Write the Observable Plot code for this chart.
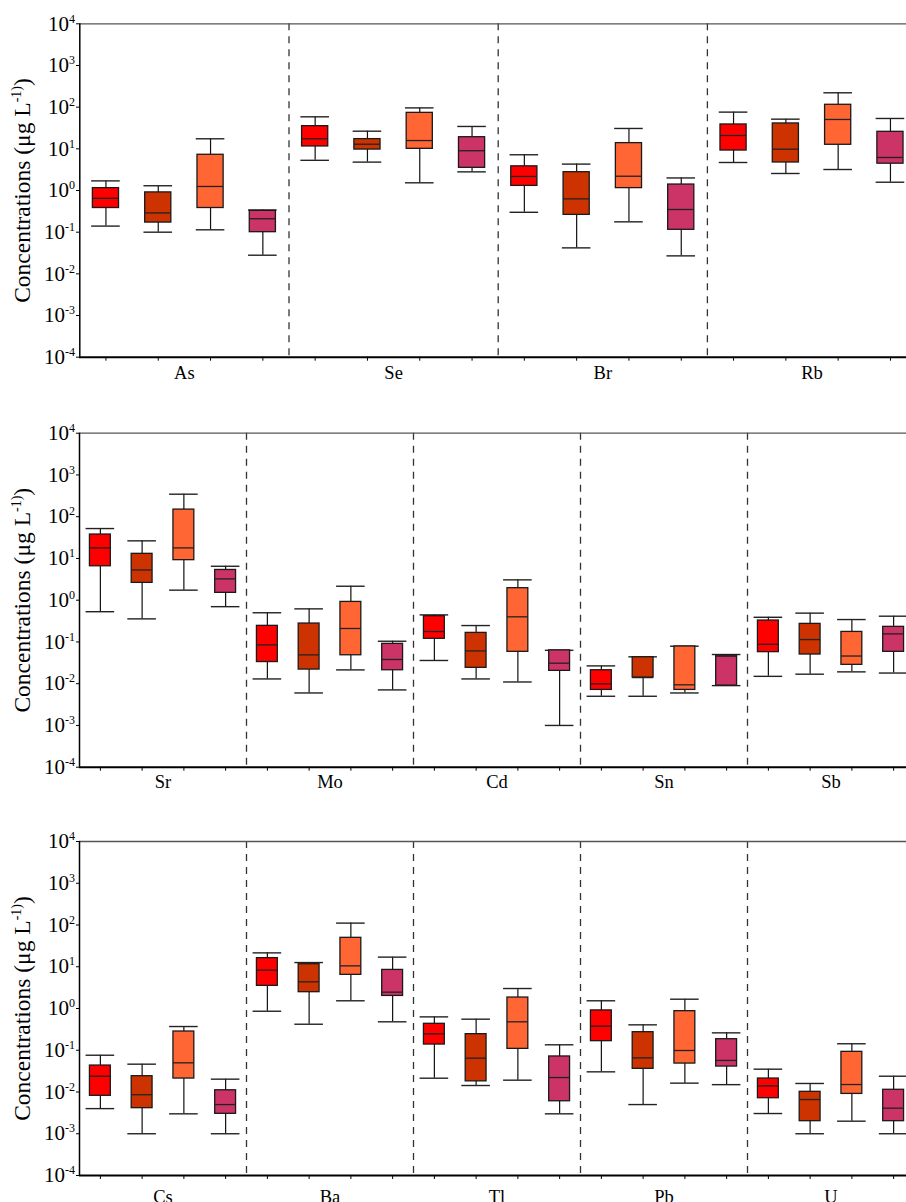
<!DOCTYPE html>
<html><head><meta charset="utf-8">
<script src="https://cdn.jsdelivr.net/npm/d3@7"></script>
<script src="https://cdn.jsdelivr.net/npm/@observablehq/plot@0.6"></script>
<style>
html,body{margin:0;padding:0;background:#fff;overflow:hidden;width:906px;}
svg{display:block}
svg, svg text, svg g, svg tspan{font-family:'Liberation Serif','Times New Roman',serif !important;}
</style>
</head><body><div id="chart"></div>
<script>
// Box statistics per element: for each of 4 series [lower whisker, Q1, median, Q3, upper whisker] (µg/L)
const As = [[0.14,0.38,0.65,1.14,1.7],[0.10,0.17,0.29,0.90,1.3],[0.114,0.38,1.25,7.2,17.4],[0.028,0.10,0.21,0.325,0.34]];
const Se = [[5.3,11.4,17.4,35,58.6],[4.8,9.6,12.9,17.1,26.5],[1.53,10,15.8,73,96],[2.8,3.5,9.0,19,34.4]];
const Br = [[0.30,1.29,2.17,3.8,7.2],[0.042,0.26,0.63,2.75,4.3],[0.177,1.14,2.2,13.7,30.8],[0.027,0.114,0.35,1.39,2.0]];
const Rb = [[4.7,9.1,20.9,38.4,76],[2.56,4.7,9.8,40.6,51.5],[3.19,12.5,50.6,114,221],[1.58,4.4,6.2,25.6,53.5]];
const Sr = [[0.53,6.5,17.9,37.4,52],[0.357,2.6,5.3,12.9,26.4],[1.74,9.1,17.9,148,346],[0.70,1.5,3.24,5.3,6.5]];
const Mo = [[0.013,0.033,0.085,0.243,0.50],[0.006,0.0218,0.049,0.276,0.62],[0.0214,0.048,0.21,0.91,2.16],[0.0071,0.021,0.038,0.090,0.104]];
const Cd = [[0.036,0.119,0.178,0.414,0.445],[0.013,0.024,0.061,0.165,0.247],[0.011,0.058,0.40,1.94,3.07],[0.001,0.0203,0.031,0.063,0.063]];
const Sn = [[0.005,0.0071,0.0099,0.021,0.0267],[0.005,0.014,0.014,0.043,0.044],[0.006,0.0071,0.0094,0.078,0.079],[0.009,0.009,0.0456,0.047,0.050]];
const Sb = [[0.015,0.057,0.088,0.326,0.39],[0.0169,0.050,0.114,0.271,0.49],[0.0192,0.0283,0.046,0.174,0.344],[0.018,0.058,0.156,0.23,0.414]];
const Cs = [[0.004,0.0081,0.0239,0.043,0.076],[0.001,0.0041,0.0086,0.0239,0.0464],[0.003,0.021,0.050,0.281,0.37],[0.001,0.003,0.005,0.011,0.0203]];
const Ba = [[0.86,3.49,8.3,16.1,21.5],[0.42,2.46,4.35,11.5,12.6],[1.53,6.4,10.5,49.3,111],[0.48,2.0,2.46,8.4,17]];
const Tl = [[0.0214,0.137,0.247,0.43,0.63],[0.0143,0.018,0.0646,0.243,0.555],[0.0192,0.108,0.48,1.83,3.01],[0.003,0.006,0.0222,0.071,0.135]];
const Pb = [[0.0304,0.165,0.377,0.90,1.53],[0.005,0.0359,0.0657,0.271,0.406],[0.0163,0.048,0.0986,0.863,1.67],[0.015,0.0407,0.057,0.184,0.261]];
const U  = [[0.00305,0.0071,0.014,0.021,0.0352],[0.001,0.002,0.0066,0.0101,0.016],[0.002,0.009,0.0151,0.0916,0.143],[0.001,0.002,0.0041,0.0113,0.0239]];

const panel1Elements = ["As","Se","Br","Rb"];
const panel2Elements = ["Sr","Mo","Cd","Sn","Sb"];
const panel3Elements = ["Cs","Ba","Tl","Pb","U"];
const yTicks = [1e-4,1e-3,1e-2,1e-1,1,1e1,1e2,1e3,1e4];
const yLabel = "Concentrations (μg L^-1)";
const seriesColors = ["#FF0000","#CC3300","#FF6633","#CC3366"];

const stats = {As,Se,Br,Rb,Sr,Mo,Cd,Sn,Sb,Cs,Ba,Tl,Pb,U};

const panels = [
  {elements: panel1Elements, spacing: 52.3, left: 79.3, height: 409, mt: 23.3, mb: 52.3, labelDy: 8.3},
  {elements: panel2Elements, spacing: 41.75, left: 79, height: 409, mt: 23.7, mb: 51.3, labelDy: 7.3},
  {elements: panel3Elements, spacing: 41.75, left: 79, height: 384, mt: 23, mb: 27, labelDy: 14}
];

const NS = "http://www.w3.org/2000/svg";
const FONT = "'Liberation Serif', 'Times New Roman', serif";
function supify(textEl, base, exp, size, supSize, raise) {
  textEl.textContent = "";
  textEl.style.fontFamily = FONT;
  textEl.style.fontSize = size + "px";
  const t1 = document.createElementNS(NS, "tspan"); t1.textContent = base; textEl.appendChild(t1);
  const t2 = document.createElementNS(NS, "tspan"); t2.textContent = exp;
  t2.setAttribute("dy", -raise); t2.style.fontSize = supSize + "px"; textEl.appendChild(t2);
  return t2;
}

function makePanel(p) {
  const rows = [];
  p.elements.forEach((el, g) => stats[el].forEach((s, k) => rows.push({
    el, k, i: g * 4 + k, min: s[0], q1: s[1], med: s[2], q3: s[3], max: s[4], color: seriesColors[k]
  })));
  const n = p.elements.length * 4;
  const cap = 14.3 / p.spacing;
  const bw = 0.25;
  const seps = d3.range(1, p.elements.length).map(g => g * 4 - 0.5);
  const svg = Plot.plot({
    width: 906, height: p.height,
    marginLeft: 79, marginRight: 0, marginTop: p.mt, marginBottom: p.mb,
    style: "font-family: 'Liberation Serif', 'Times New Roman', serif; font-size: 18px; background: white; color: #000;",
    x: {type: "linear", domain: [-0.5, n - 0.5], range: [p.left, p.left + n * p.spacing], label: null},
    y: {type: "log", domain: [1e-4, 1e4], label: null},
    color: {type: "identity"},
    marks: [
      Plot.ruleX(seps, {stroke: "#333", strokeWidth: 1.3, strokeDasharray: "7,6"}),
      Plot.ruleY([1e4], {stroke: "#555", strokeWidth: 1.3}),
      Plot.ruleX(rows, {x: "i", y1: "min", y2: "max", stroke: "#111", strokeWidth: 1.2}),
      Plot.ruleY(rows, {y: "max", x1: d => d.i - cap, x2: d => d.i + cap, stroke: "#222", strokeWidth: 1.4}),
      Plot.ruleY(rows, {y: "min", x1: d => d.i - cap, x2: d => d.i + cap, stroke: "#222", strokeWidth: 1.4}),
      Plot.rect(rows, {x1: d => d.i - bw, x2: d => d.i + bw, y1: "q1", y2: "q3", fill: "color", stroke: "#1a1a1a", strokeWidth: 1.3}),
      Plot.ruleY(rows, {y: "med", x1: d => d.i - bw, x2: d => d.i + bw, stroke: "#222", strokeWidth: 1.3}),
      Plot.axisY({ticks: yTicks, tickSize: 3, tickPadding: 1.5, fontSize: 21,
        tickFormat: d => "10^" + Math.round(Math.log10(d)), label: null}),
      Plot.axisX({ticks: d3.range(n), tickSize: 4, tickFormat: () => "", label: null}),
      Plot.ruleX([-0.5], {stroke: "#000", strokeWidth: 1.5}),
      Plot.ruleY([1e-4], {stroke: "#000", strokeWidth: 2}),
      Plot.text(p.elements, {x: (d, j) => j * 4 + 1.5, frameAnchor: "bottom", lineAnchor: "top", dy: p.labelDy, fontSize: 18.5, fill: "#000"}),
      Plot.text([yLabel], {frameAnchor: "left", textAnchor: "middle", lineAnchor: "middle", dx: -57, rotate: -90, fontSize: 23.5, fill: "#000"})
    ]
  });
  svg.querySelectorAll('g[aria-label="y-axis tick label"] text').forEach(t => {
    const [b, e] = t.textContent.split("^");
    supify(t, b, e, 21, 12, 8);
  });
  svg.querySelectorAll("text").forEach(t => {
    if (t.textContent === yLabel) {
      const [b, rest] = yLabel.split("^");
      supify(t, b, rest, 23.5, 14, 9.5);
      const t3 = document.createElementNS(NS, "tspan");
      t3.textContent = ")"; t3.setAttribute("dy", 9.5); t3.style.fontSize = "23.5px"; t.appendChild(t3);
    }
  });
  return svg;
}

const chart = document.getElementById("chart");
panels.forEach(p => chart.appendChild(makePanel(p)));
</script>
</body></html>
